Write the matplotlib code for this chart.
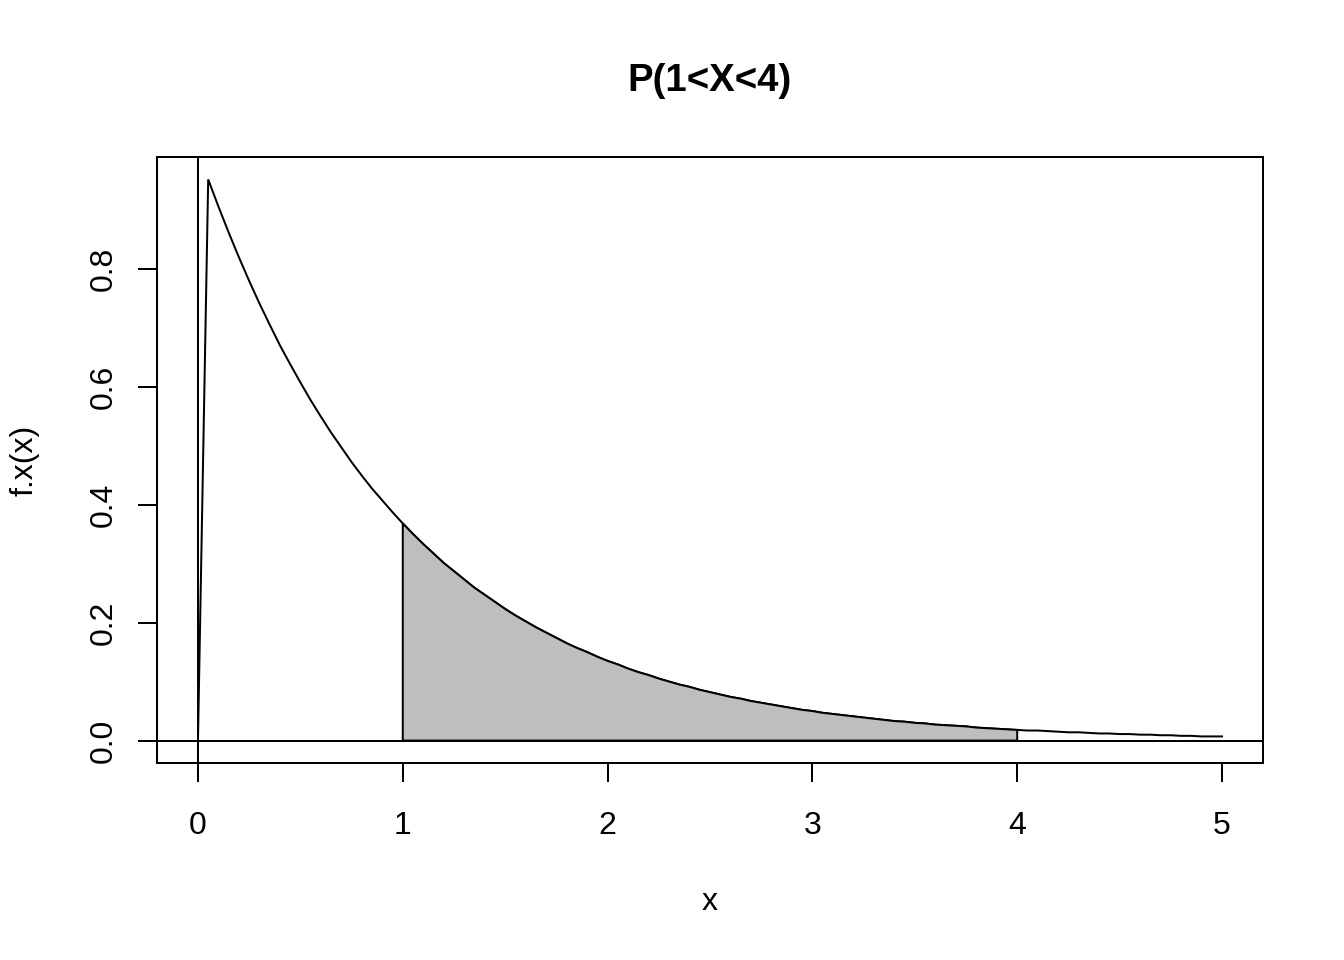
import numpy as np
import matplotlib
matplotlib.use("Agg")
import matplotlib.pyplot as plt

plt.rcParams['font.family'] = ['Liberation Sans', 'DejaVu Sans']

# density values (f(0)=0, then decaying curve), step 0.05
x_vals = np.round(np.arange(0, 101) * 0.05, 2)
f_vals = [0.0,
    0.951, 0.905, 0.861, 0.819, 0.779, 0.741, 0.705, 0.670, 0.638, 0.607,
    0.577, 0.549, 0.522, 0.497, 0.472, 0.449, 0.427, 0.407, 0.387, 0.368,
    0.350, 0.333, 0.317, 0.301, 0.287, 0.273, 0.259, 0.247, 0.235, 0.223,
    0.212, 0.202, 0.192, 0.183, 0.174, 0.165, 0.157, 0.150, 0.142, 0.135,
    0.129, 0.122, 0.116, 0.111, 0.105, 0.100, 0.095, 0.091, 0.086, 0.082,
    0.078, 0.074, 0.071, 0.067, 0.064, 0.061, 0.058, 0.055, 0.052, 0.050,
    0.047, 0.045, 0.043, 0.041, 0.039, 0.037, 0.035, 0.033, 0.032, 0.030,
    0.029, 0.027, 0.026, 0.025, 0.024, 0.022, 0.021, 0.020, 0.019, 0.018,
    0.017, 0.017, 0.016, 0.015, 0.014, 0.014, 0.013, 0.012, 0.012, 0.011,
    0.011, 0.010, 0.010, 0.009, 0.009, 0.008, 0.008, 0.007, 0.007, 0.007]
shade_lo, shade_hi = 1.0, 4.0
x_ticks = [0, 1, 2, 3, 4, 5]
y_ticks = [0.0, 0.2, 0.4, 0.6, 0.8]
y_ticklabels = ["0.0", "0.2", "0.4", "0.6", "0.8"]
title = "P(1<X<4)"
xlabel = "x"
ylabel = "f.x(x)"

x_arr = np.array(x_vals)
f_arr = np.array(f_vals)

W, H = 1344, 960
fig = plt.figure(figsize=(W / 100, H / 100), dpi=100)
ax = fig.add_axes([157 / W, 1 - 763 / H, (1263 - 157) / W, (763 - 157) / H])

lw = 1.44
ax.plot(x_arr, f_arr, color='black', lw=lw, solid_joinstyle='miter')

mask = (x_arr >= shade_lo - 1e-9) & (x_arr <= shade_hi + 1e-9)
px = np.concatenate([[shade_lo], x_arr[mask], [shade_hi]])
py = np.concatenate([[0], f_arr[mask], [0]])
ax.fill(px, py, facecolor='#BEBEBE', edgecolor='black', lw=lw, zorder=3)

ax.axhline(0, color='black', lw=lw, zorder=4)
ax.axvline(0, color='black', lw=lw, zorder=4)

xr = max(x_vals) - min(x_vals)
ax.set_xlim(min(x_vals) - 0.04 * xr, max(x_vals) + 0.04 * xr)
yr = max(f_vals) - min(f_vals)
ax.set_ylim(min(f_vals) - 0.04 * yr, max(f_vals) + 0.04 * yr)

for s in ax.spines.values():
    s.set_linewidth(lw)

fs = 23
ax.set_xticks(x_ticks)
ax.set_xticklabels([str(t) for t in x_ticks], fontsize=fs)
ax.set_yticks(y_ticks)
ax.set_yticklabels(y_ticklabels, fontsize=fs, rotation=90, va='center')
ax.tick_params(axis='both', length=13.7, width=lw, direction='out')
ax.tick_params(axis='x', pad=21)
ax.tick_params(axis='y', pad=14)

fig.text(710 / W, 1 - 81 / H, title, ha='center', va='center', fontsize=27.6, fontweight='bold')
fig.text(710 / W, 1 - 902 / H, xlabel, ha='center', va='center', fontsize=fs)
fig.text(25 / W, 1 - 460 / H, ylabel, ha='center', va='center', fontsize=fs, rotation=90)

fig.savefig("out.png", dpi=100)
